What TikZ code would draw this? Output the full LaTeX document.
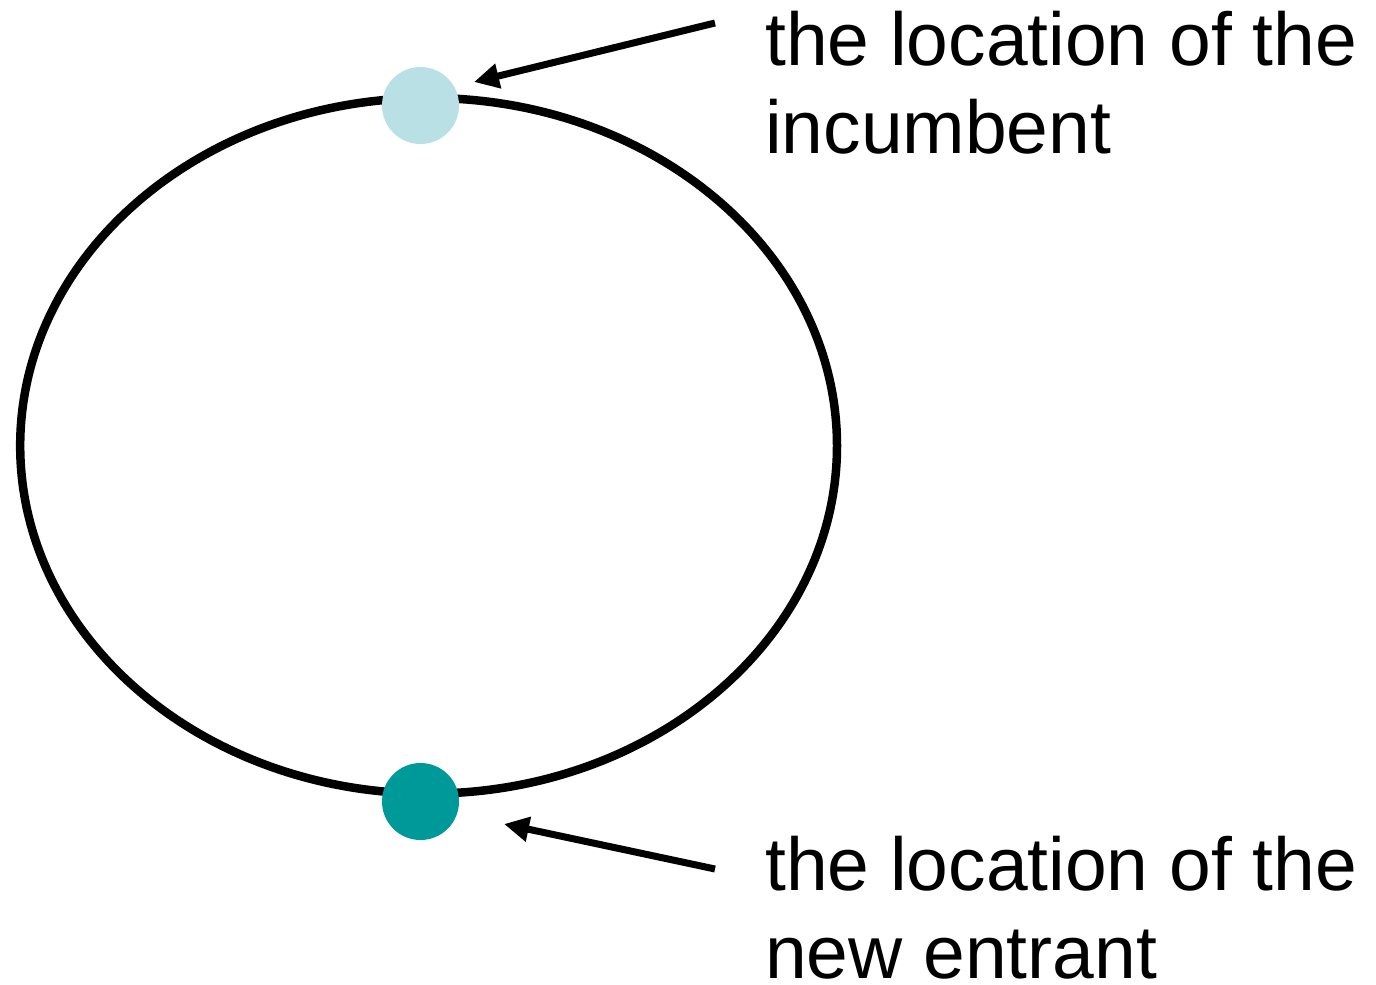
\documentclass[tikz,border=0pt]{standalone}
\usepackage{fontspec}
\setmainfont{Liberation Sans}
\usetikzlibrary{arrows.meta}
\definecolor{incumb}{HTML}{B9E0E4}
\definecolor{entrant}{HTML}{009999}
\begin{document}
\begin{tikzpicture}[x=1pt,y=-1pt,
  ring/.style={line width=8.5pt,draw=black},
  firm/.style={circle,inner sep=0pt,minimum size=77pt,draw=none},
  pointer/.style={line width=7pt,-{Triangle[length=25pt,width=24pt]}},
  label/.style={anchor=base west,inner sep=0pt,align=left,
    font=\fontsize{75}{88}\selectfont}]
\useasboundingbox (0,0) rectangle (1376,985);
\draw[ring] (428.6,445.8) ellipse [x radius=408.4pt,y radius=347.8pt];
\node[firm,fill=incumb] (inc) at (420.5,105.5) {};
\node[firm,fill=entrant] (new) at (420.5,801.5) {};
\coordinate (s1) at (715,23);
\coordinate (t1) at (474,82);
\coordinate (s2) at (715,869);
\coordinate (t2) at (504,824);
\draw[pointer] (s1) -- (t1);
\draw[pointer] (s2) -- (t2);
\node[label] (l1) at (765,153) {the location of the\\incumbent};
\node[label] (l2) at (765,978) {the location of the\\new entrant};
\end{tikzpicture}
\end{document}
